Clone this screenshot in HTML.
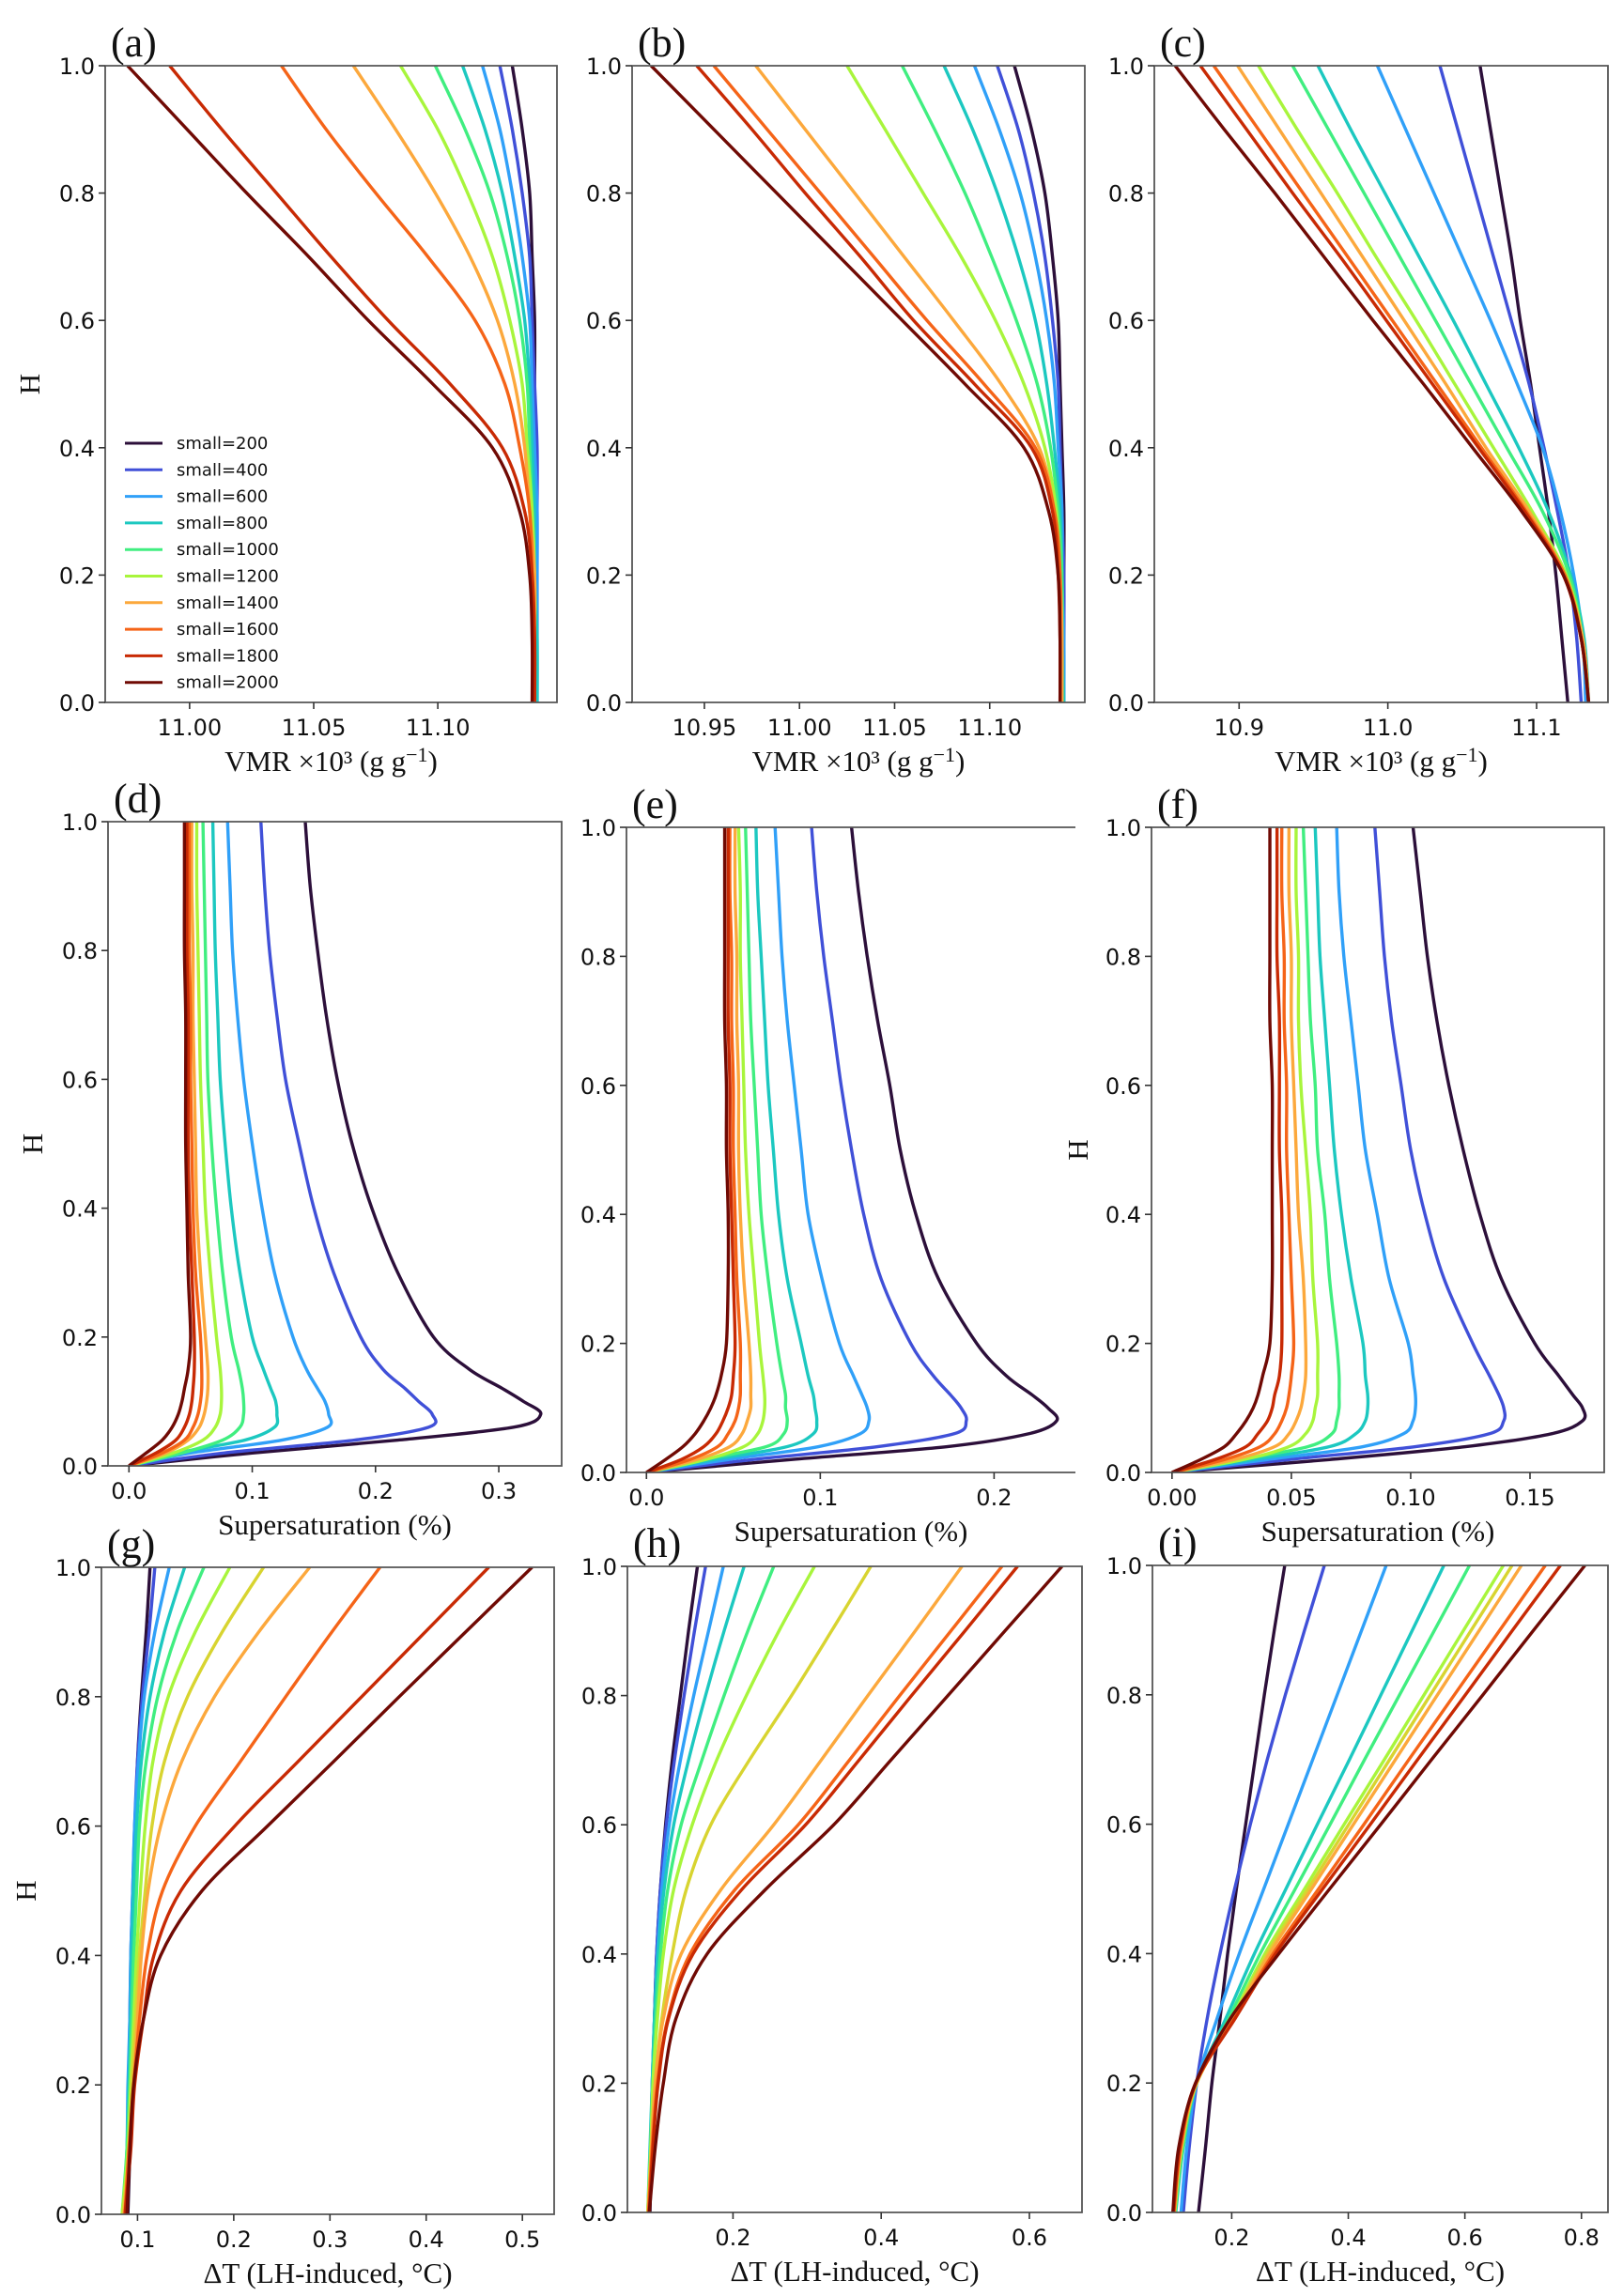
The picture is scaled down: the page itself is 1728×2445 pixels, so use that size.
<!DOCTYPE html>
<html><head><meta charset="utf-8">
<style>
html,body{margin:0;padding:0;background:#fff;}
svg{display:block;}
.tk{font-family:"DejaVu Sans","Liberation Sans",sans-serif;font-size:24px;fill:#111;}
.lb{font-family:"Liberation Serif","DejaVu Serif",serif;font-size:31px;fill:#111;}
.pl{font-family:"Liberation Serif","DejaVu Serif",serif;font-size:44px;fill:#111;}
.lg{font-family:"DejaVu Sans","Liberation Sans",sans-serif;font-size:18px;fill:#111;}
</style></head>
<body>
<svg id="fig" width="1728" height="2445" viewBox="0 0 1728 2445" xmlns="http://www.w3.org/2000/svg"></svg>
<script>
// ---------- data ----------
const legendLabels = ["small=200","small=400","small=600","small=800","small=1000","small=1200","small=1400","small=1600","small=1800","small=2000"];
const colors10 = ['#2c0f3a','#4050d8','#30a0f8','#1cc8c0','#40ee80','#a8f53c','#fca83c','#f56418','#c82a04','#700a04'];
const colors11 = ['#2c0f3a','#4050d8','#30a0f8','#1cc8c0','#40ee80','#a8f53c','#d8d430','#fca83c','#f56418','#c82a04','#700a04'];

const hRow1 = [1,.9,.8,.7,.6,.5,.4,.3,.2,.1,0];
const hRow2 = [1,.9,.8,.7,.6,.5,.4,.3,.2,.15,.12,.1,.08,.06,.04,.02,0];
const hRow3 = [1,.9,.8,.7,.6,.5,.4,.3,.2,.1,0];

const seriesA = [
[11.130,11.134,11.137,11.138,11.139,11.139,11.139,11.139,11.139,11.139,11.139],
[11.125,11.130,11.134,11.137,11.138,11.139,11.140,11.140,11.140,11.140,11.140],
[11.118,11.125,11.130,11.134,11.137,11.138,11.139,11.140,11.140,11.140,11.140],
[11.110,11.119,11.126,11.131,11.135,11.137,11.138,11.139,11.139,11.140,11.140],
[11.099,11.111,11.121,11.128,11.133,11.136,11.137,11.138,11.139,11.139,11.139],
[11.085,11.100,11.112,11.122,11.129,11.134,11.136,11.138,11.139,11.139,11.139],
[11.066,11.083,11.099,11.113,11.124,11.131,11.135,11.137,11.139,11.139,11.139],
[11.037,11.055,11.075,11.096,11.115,11.127,11.133,11.137,11.138,11.139,11.139],
[10.992,11.013,11.035,11.057,11.080,11.105,11.126,11.135,11.138,11.139,11.139],
[10.975,10.999,11.023,11.048,11.072,11.098,11.122,11.133,11.137,11.138,11.138]];
const seriesB = [
[11.113,11.122,11.129,11.133,11.136,11.137,11.138,11.139,11.139,11.139,11.139],
[11.104,11.115,11.123,11.129,11.133,11.136,11.137,11.138,11.139,11.139,11.139],
[11.092,11.105,11.116,11.124,11.130,11.134,11.136,11.138,11.138,11.139,11.139],
[11.076,11.091,11.104,11.115,11.124,11.130,11.134,11.137,11.138,11.138,11.139],
[11.054,11.071,11.087,11.101,11.114,11.125,11.132,11.136,11.138,11.138,11.138],
[11.025,11.045,11.065,11.085,11.103,11.118,11.129,11.135,11.137,11.138,11.138],
[10.977,11.003,11.029,11.055,11.081,11.106,11.126,11.134,11.137,11.138,11.138],
[10.955,10.983,11.011,11.039,11.067,11.097,11.124,11.134,11.137,11.137,11.137],
[10.946,10.975,11.003,11.032,11.060,11.092,11.122,11.133,11.136,11.137,11.137],
[10.922,10.955,10.988,11.021,11.054,11.087,11.118,11.131,11.136,11.137,11.137]];
const seriesC = [
[11.062,11.069,11.076,11.083,11.089,11.096,11.102,11.108,11.113,11.117,11.121],
[11.035,11.047,11.059,11.071,11.083,11.095,11.105,11.114,11.122,11.127,11.130],
[10.993,11.012,11.031,11.050,11.069,11.087,11.104,11.116,11.125,11.131,11.133],
[10.953,10.975,10.998,11.021,11.044,11.066,11.088,11.108,11.123,11.132,11.135],
[10.936,10.960,10.984,11.008,11.032,11.056,11.080,11.104,11.122,11.131,11.135],
[10.913,10.939,10.966,10.992,11.019,11.045,11.071,11.097,11.120,11.131,11.135],
[10.899,10.927,10.955,10.983,11.011,11.039,11.066,11.095,11.119,11.131,11.135],
[10.883,10.913,10.943,10.973,11.003,11.033,11.063,11.093,11.119,11.130,11.135],
[10.874,10.905,10.936,10.968,10.999,11.030,11.061,11.092,11.118,11.130,11.135],
[10.857,10.890,10.924,10.957,10.990,11.024,11.057,11.090,11.118,11.130,11.135]];
const seriesD = [
[.143,.147,.153,.160,.169,.181,.197,.218,.247,.276,.303,.320,.334,.312,.218,.100,0],
[.107,.110,.114,.120,.127,.138,.150,.166,.188,.206,.224,.235,.246,.243,.183,.077,0],
[.080,.082,.084,.088,.093,.100,.108,.118,.133,.144,.153,.159,.162,.161,.124,.050,0],
[.068,.069,.070,.072,.074,.078,.083,.090,.100,.109,.115,.119,.120,.118,.094,.039,0],
[.060,.061,.062,.063,.064,.067,.071,.076,.083,.089,.092,.093,.093,.090,.076,.043,0],
[.055,.055,.056,.057,.058,.060,.062,.066,.071,.074,.075,.075,.074,.070,.060,.036,0],
[.051,.051,.052,.052,.053,.054,.055,.058,.062,.064,.064,.063,.061,.057,.048,.030,0],
[.049,.049,.049,.050,.050,.051,.052,.054,.058,.059,.059,.058,.056,.052,.045,.027,0],
[.047,.047,.047,.048,.048,.048,.049,.051,.053,.053,.052,.051,.049,.045,.038,.022,0],
[.045,.045,.045,.046,.046,.046,.047,.048,.050,.048,.045,.043,.040,.035,.027,.014,0]];
const seriesE = [
[.118,.122,.127,.133,.140,.146,.155,.168,.190,.207,.222,.231,.236,.220,.173,.083,0],
[.095,.098,.102,.107,.112,.118,.125,.135,.152,.165,.175,.181,.184,.177,.133,.061,0],
[.074,.076,.078,.081,.085,.089,.093,.101,.111,.119,.124,.127,.128,.123,.099,.047,0],
[.063,.064,.066,.068,.070,.073,.076,.081,.089,.093,.096,.097,.098,.096,.081,.039,0],
[.057,.058,.059,.060,.062,.064,.066,.070,.075,.078,.080,.080,.081,.079,.069,.033,0],
[.053,.054,.054,.055,.056,.057,.059,.062,.065,.067,.068,.068,.067,.064,.056,.034,0],
[.051,.051,.052,.052,.053,.053,.054,.056,.059,.060,.060,.060,.058,.055,.048,.029,0],
[.048,.048,.049,.049,.050,.050,.051,.052,.054,.054,.054,.053,.051,.047,.041,.025,0],
[.047,.047,.047,.047,.048,.048,.049,.050,.051,.050,.049,.047,.044,.040,.033,.020,0],
[.045,.045,.045,.045,.046,.046,.047,.047,.046,.043,.040,.037,.033,.028,.021,.011,0]];
const seriesF = [
[.101,.104,.107,.111,.116,.122,.129,.138,.152,.162,.168,.172,.172,.159,.123,.066,0],
[.085,.087,.089,.092,.096,.100,.106,.114,.126,.133,.137,.139,.139,.133,.102,.049,0],
[.069,.070,.072,.075,.078,.081,.086,.091,.099,.101,.102,.102,.101,.097,.080,.040,0],
[.060,.061,.062,.064,.066,.068,.071,.075,.080,.081,.082,.082,.081,.077,.066,.034,0],
[.055,.056,.057,.058,.060,.061,.064,.066,.069,.070,.070,.070,.069,.067,.057,.029,0],
[.052,.052,.053,.053,.054,.056,.058,.059,.061,.061,.061,.060,.059,.056,.049,.030,0],
[.049,.049,.050,.050,.051,.052,.053,.055,.056,.056,.055,.054,.052,.049,.043,.026,0],
[.046,.046,.047,.047,.048,.048,.049,.050,.051,.050,.049,.048,.046,.043,.037,.022,0],
[.044,.044,.044,.045,.045,.045,.046,.046,.046,.045,.043,.042,.040,.036,.031,.018,0],
[.041,.041,.041,.041,.042,.042,.042,.042,.041,.038,.036,.034,.031,.027,.022,.012,0]];
const seriesG = [
[.113,.109,.104,.100,.098,.096,.095,.094,.093,.092,.090],
[.118,.112,.105,.100,.097,.095,.093,.092,.091,.090,.088],
[.133,.118,.107,.101,.097,.095,.093,.092,.090,.089,.086],
[.149,.128,.113,.104,.099,.096,.094,.093,.091,.089,.085],
[.169,.141,.121,.109,.102,.099,.096,.094,.092,.089,.084],
[.196,.160,.132,.116,.108,.103,.099,.096,.093,.090,.084],
[.231,.188,.152,.128,.115,.108,.102,.098,.094,.091,.085],
[.279,.226,.180,.146,.124,.111,.104,.100,.096,.092,.086],
[.352,.302,.254,.207,.160,.126,.110,.102,.096,.091,.087],
[.465,.399,.333,.267,.201,.145,.117,.106,.097,.093,.087],
[.510,.441,.372,.304,.235,.167,.124,.106,.096,.092,.089]];
const seriesH = [
[.152,.140,.129,.118,.109,.102,.097,.094,.092,.090,.088],
[.163,.148,.134,.121,.110,.102,.097,.094,.091,.089,.087],
[.187,.167,.147,.129,.114,.104,.098,.094,.091,.089,.086],
[.215,.188,.163,.140,.120,.107,.099,.094,.091,.088,.085],
[.255,.220,.188,.158,.130,.112,.102,.096,.092,.089,.085],
[.310,.262,.218,.178,.145,.120,.106,.098,.092,.089,.085],
[.386,.333,.279,.222,.170,.137,.118,.104,.095,.090,.085],
[.509,.446,.382,.319,.255,.184,.130,.106,.095,.090,.086],
[.563,.494,.425,.357,.288,.203,.142,.112,.098,.091,.086],
[.584,.513,.441,.370,.298,.212,.146,.113,.099,.092,.087],
[.644,.567,.490,.413,.336,.244,.165,.123,.106,.095,.087]];
const seriesI = [
[.291,.273,.256,.240,.224,.208,.193,.180,.166,.155,.143],
[.359,.325,.292,.261,.232,.205,.180,.158,.140,.127,.117],
[.465,.423,.381,.339,.297,.255,.213,.175,.140,.123,.113],
[.564,.510,.456,.402,.347,.293,.239,.190,.140,.117,.104],
[.608,.548,.488,.428,.369,.309,.249,.195,.140,.116,.103],
[.666,.598,.530,.462,.393,.325,.257,.200,.140,.114,.102],
[.681,.611,.541,.471,.401,.331,.261,.202,.140,.114,.102],
[.697,.625,.553,.481,.409,.337,.265,.203,.139,.113,.101],
[.738,.660,.582,.504,.427,.349,.271,.205,.139,.112,.101],
[.764,.682,.601,.519,.438,.356,.275,.206,.138,.111,.100],
[.806,.718,.631,.543,.456,.368,.281,.198,.138,.109,.099]];

const yTicks = [0,0.2,0.4,0.6,0.8,1.0];
const yTickLabels = ["0.0","0.2","0.4","0.6","0.8","1.0"];
const xTicksA = [11.00,11.05,11.10]; const xLabelsA = ["11.00","11.05","11.10"];
const xTicksB = [10.95,11.00,11.05,11.10]; const xLabelsB = ["10.95","11.00","11.05","11.10"];
const xTicksC = [10.9,11.0,11.1]; const xLabelsC = ["10.9","11.0","11.1"];
const xTicksD = [0,0.1,0.2,0.3]; const xLabelsD = ["0.0","0.1","0.2","0.3"];
const xTicksE = [0,0.1,0.2]; const xLabelsE = ["0.0","0.1","0.2"];
const xTicksF = [0,0.05,0.10,0.15]; const xLabelsF = ["0.00","0.05","0.10","0.15"];
const xTicksG = [0.1,0.2,0.3,0.4,0.5]; const xLabelsG = ["0.1","0.2","0.3","0.4","0.5"];
const xTicksH = [0.2,0.4,0.6]; const xLabelsH = ["0.2","0.4","0.6"];
const xTicksI = [0.2,0.4,0.6,0.8]; const xLabelsI = ["0.2","0.4","0.6","0.8"];

// ---------- layout ----------
const NS = "http://www.w3.org/2000/svg";
const svg = document.getElementById('fig');
function mk(tag, attrs, parent){
  const e = document.createElementNS(NS, tag);
  for (const k in attrs) e.setAttribute(k, attrs[k]);
  (parent||svg).appendChild(e); return e;
}
const VMR = "VMR \u00d710\u00b3 (g g";
const panels = [
 {id:'a',L:112,R:593,T:70,B:748,dom:[10.966,11.148],xt:xTicksA,xl:xLabelsA,h:hRow1,s:seriesA,c:colors10,xlab:'vmr',ylab:true,legend:true,rspine:true},
 {id:'b',L:673,R:1155,T:70,B:748,dom:[10.912,11.150],xt:xTicksB,xl:xLabelsB,h:hRow1,s:seriesB,c:colors10,xlab:'vmr',rspine:true},
 {id:'c',L:1229,R:1712,T:70,B:748,dom:[10.843,11.148],xt:xTicksC,xl:xLabelsC,h:hRow1,s:seriesC,c:colors10,xlab:'vmr',rspine:true},
 {id:'d',L:115,R:598,T:875,B:1561,dom:[-0.017,0.351],xt:xTicksD,xl:xLabelsD,h:hRow2,s:seriesD,c:colors10,xlab:'Supersaturation (%)',ylab:true,rspine:true},
 {id:'e',L:667,R:1145,T:881,B:1568,dom:[-0.0115,0.2468],xt:xTicksE,xl:xLabelsE,h:hRow2,s:seriesE,c:colors10,xlab:'Supersaturation (%)',rspine:false},
 {id:'f',L:1226,R:1708,T:881,B:1568,dom:[-0.0086,0.1811],xt:xTicksF,xl:xLabelsF,h:hRow2,s:seriesF,c:colors10,xlab:'Supersaturation (%)',ylab:true,ylabX:1158,rspine:true},
 {id:'g',L:108,R:590,T:1669,B:2358,dom:[0.0625,0.533],xt:xTicksG,xl:xLabelsG,h:hRow3,s:seriesG,c:colors11,xlab:'\u0394T (LH-induced, \u00b0C)',ylab:true,rspine:true},
 {id:'h',L:668,R:1152,T:1668,B:2356,dom:[0.0575,0.671],xt:xTicksH,xl:xLabelsH,h:hRow3,s:seriesH,c:colors11,xlab:'\u0394T (LH-induced, \u00b0C)',rspine:true},
 {id:'i',L:1227,R:1712,T:1667,B:2356,dom:[0.064,0.8455],xt:xTicksI,xl:xLabelsI,h:hRow3,s:seriesI,c:colors11,xlab:'\u0394T (LH-induced, \u00b0C)',rspine:true}
];

function catmull(pts){
  let d = 'M'+pts[0][0].toFixed(2)+','+pts[0][1].toFixed(2);
  for (let i=0;i<pts.length-1;i++){
    const p0=pts[Math.max(0,i-1)], p1=pts[i], p2=pts[i+1], p3=pts[Math.min(pts.length-1,i+2)];
    const c1=[p1[0]+(p2[0]-p0[0])/6, p1[1]+(p2[1]-p0[1])/6];
    const c2=[p2[0]-(p3[0]-p1[0])/6, p2[1]-(p3[1]-p1[1])/6];
    d+=' C'+c1[0].toFixed(2)+','+c1[1].toFixed(2)+' '+c2[0].toFixed(2)+','+c2[1].toFixed(2)+' '+p2[0].toFixed(2)+','+p2[1].toFixed(2);
  }
  return d;
}

const defs = mk('defs',{});
panels.forEach(p=>{
  const g = mk('g',{});
  
  
  const xs = v => p.L + (v-p.dom[0])/(p.dom[1]-p.dom[0])*(p.R-p.L);
  const ys = v => p.B - v*(p.B-p.T);
  const cp = mk('clipPath',{id:'clip-'+p.id},defs);
  mk('rect',{x:p.L,y:p.T,width:p.R-p.L,height:p.B-p.T},cp);
  const sg = mk('g',{'clip-path':'url(#clip-'+p.id+')'},g);
  
  
  p.s.forEach((arr,k)=>{
    const pts = arr.map((v,j)=>[xs(v), ys(p.h[j])]);
    const path = mk('path',{d:catmull(pts),fill:'none',stroke:p.c[k],'stroke-width':3.4,'stroke-linejoin':'round'},sg);
    
    
  });
  const sp = mk('path',{d:'M'+p.L+','+p.T+' L'+p.L+','+p.B+' L'+p.R+','+p.B+(p.rspine?' L'+p.R+','+p.T+' L'+p.L+','+p.T:' M'+p.L+','+p.T+' L'+p.R+','+p.T),fill:'none',stroke:'#555','stroke-width':1.8},g);
  
  
  yTicks.forEach((v,k)=>{
    const y = ys(v);
    mk('line',{x1:p.L-7,x2:p.L,y1:y,y2:y,stroke:'#333','stroke-width':1.6},g);
    const t = mk('text',{x:p.L-11,y:y+9,'text-anchor':'end',class:'tk'},g);
    t.textContent = yTickLabels[k];
    
    
  });
  p.xt.forEach((v,k)=>{
    const x = xs(v);
    mk('line',{x1:x,x2:x,y1:p.B,y2:p.B+7,stroke:'#333','stroke-width':1.6},g);
    const t = mk('text',{x:x,y:p.B+35,'text-anchor':'middle',class:'tk'},g);
    t.textContent = p.xl[k];
    
    
  });
  const xl = mk('text',{x:(p.L+p.R)/2,y:p.B+73,'text-anchor':'middle',class:'lb'},g);
  if (p.xlab==='vmr'){
    xl.textContent = VMR;
    const sup = mk('tspan',{dy:-10,'font-size':'22px'},xl); sup.textContent='\u22121';
    const cl = mk('tspan',{dy:10},xl); cl.textContent=')';
  } else xl.textContent = p.xlab;
  
  
  if (p.ylab){
    const yx = p.ylabX || (p.L-70), yy = (p.T+p.B)/2;
    const yl = mk('text',{x:yx,y:yy,'text-anchor':'middle',class:'lb',transform:'rotate(-90 '+yx+' '+yy+')'},g);
    yl.textContent='H';
    
    
  }
  const pl = mk('text',{x:p.L+6,y:p.T-10,class:'pl'},g);
  pl.textContent='('+p.id+')';
  
  
  if (p.legend){
    const lg = mk('g',{},g);
    
    
    legendLabels.forEach((lab,k)=>{
      const y = 472 + k*28.3;
      const ln = mk('line',{x1:133,x2:173,y1:y,y2:y,stroke:colors10[k],'stroke-width':3},lg);
      
      
      const t = mk('text',{x:188,y:y+6,class:'lg'},lg);
      t.textContent = lab;
      
      
    });
  }
});
</script>
</body></html>
